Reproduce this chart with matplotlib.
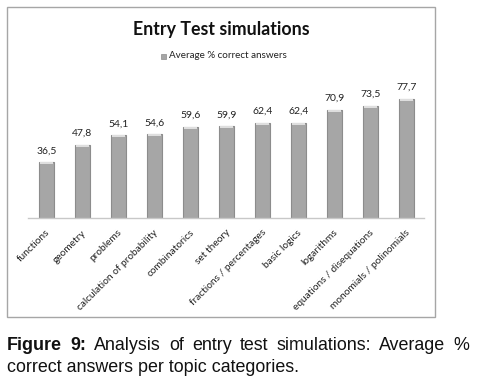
import matplotlib
matplotlib.use("Agg")
import matplotlib.pyplot as plt
from matplotlib.patches import Rectangle
from matplotlib.transforms import ScaledTranslation

categories = ["functions", "geometry", "problems", "calculation of probability",
              "combinatorics", "set theory", "fractions / percentages", "basic logics",
              "logarithms", "equations / disequations", "monomials / polinomials"]
values = [36.5, 47.8, 54.1, 54.6, 59.6, 59.9, 62.4, 62.4, 70.9, 73.5, 77.7]
value_labels = ["36,5", "47,8", "54,1", "54,6", "59,6", "59,9", "62,4", "62,4", "70,9", "73,5", "77,7"]
series_name = "Average % correct answers"
title = "Entry Test simulations"
caption_bold = "Figure 9:"
caption_line1 = "Analysis of entry test simulations: Average %"
caption_line2 = "correct answers per topic categories."

W, H = 489, 381
fig = plt.figure(figsize=(W / 100, H / 100), dpi=100)
fig.patch.set_facecolor("white")

# chart frame
fig.patches.append(Rectangle((7 / W, 1 - 317 / H), 428 / W, 310 / H, transform=fig.transFigure,
                             fill=False, edgecolor="#a6a6a6", linewidth=1.0))

ax = fig.add_axes([28.5 / W, 1 - 218 / H, 396 / W, 137.7 / H])
x = list(range(len(categories)))
ax.bar(x, values, width=0.41, color="#a6a6a6", edgecolor="#8c8c8c", linewidth=0.8, zorder=2)
caps = [v - 1.3 for v in values]
ax.bar(x, [1.3] * len(values), bottom=caps, width=0.34, color="#dedede", linewidth=0, zorder=3)
ax.set_xlim(-0.5, len(categories) - 0.5)
ax.set_ylim(0, 90)
for s in ["top", "right", "left"]:
    ax.spines[s].set_visible(False)
ax.spines["bottom"].set_color("#c8c8c8")
ax.spines["bottom"].set_linewidth(1.0)
ax.set_yticks([])
ax.set_xticks(x)
ax.set_xticklabels(categories, rotation=45, ha="right", va="center", rotation_mode="anchor",
                   fontsize=7.3, family="Lato", color="#222222")
ax.tick_params(axis="x", length=0, pad=9.5)
shift = ScaledTranslation(2 / 100, 0, fig.dpi_scale_trans)
for lbl in ax.get_xticklabels():
    lbl.set_transform(lbl.get_transform() + shift)
for xi, v, lab in zip(x, values, value_labels):
    ax.annotate(lab, (xi, v), xytext=(0, 5), textcoords="offset points", ha="center",
                va="bottom", fontsize=7.5, family="Lato", color="#222222")

fig.text(221 / W, 1 - 30 / H, title, ha="center", va="center", fontsize=12.8,
         fontweight="bold", family="Lato", color="#111111")
# legend
fig.patches.append(Rectangle((161 / W, 1 - 59 / H), 5 / W, 5 / H, transform=fig.transFigure,
                             facecolor="#a6a6a6", edgecolor="#8c8c8c", linewidth=0.5))
fig.text(169 / W, 1 - 56 / H, series_name, ha="left", va="center", fontsize=7.1,
         family="Lato", color="#222222")

# caption (justified first line)
renderer = fig.canvas.get_renderer()
left_px, right_px = 7, 469
y1 = 1 - 350 / H
y2 = 1 - 372 / H
fs = 12.9
words = [(w, "bold") for w in caption_bold.split()] + \
        [(w, "normal") for w in caption_line1.split()]
objs = []
for w, wt in words:
    t = fig.text(0, y1, w, ha="left", va="baseline", fontsize=fs, fontweight=wt,
                 family="Liberation Sans", color="#111111")
    objs.append(t)
widths = [t.get_window_extent(renderer).width for t in objs]
gap = (right_px - left_px - sum(widths)) / (len(objs) - 1)
pos = left_px
for t, wd in zip(objs, widths):
    t.set_x(pos / W)
    pos += wd + gap
fig.text(left_px / W, y2, caption_line2, ha="left", va="baseline", fontsize=fs,
         family="Liberation Sans", color="#111111")

fig.savefig("out.png", dpi=100, facecolor="white")
